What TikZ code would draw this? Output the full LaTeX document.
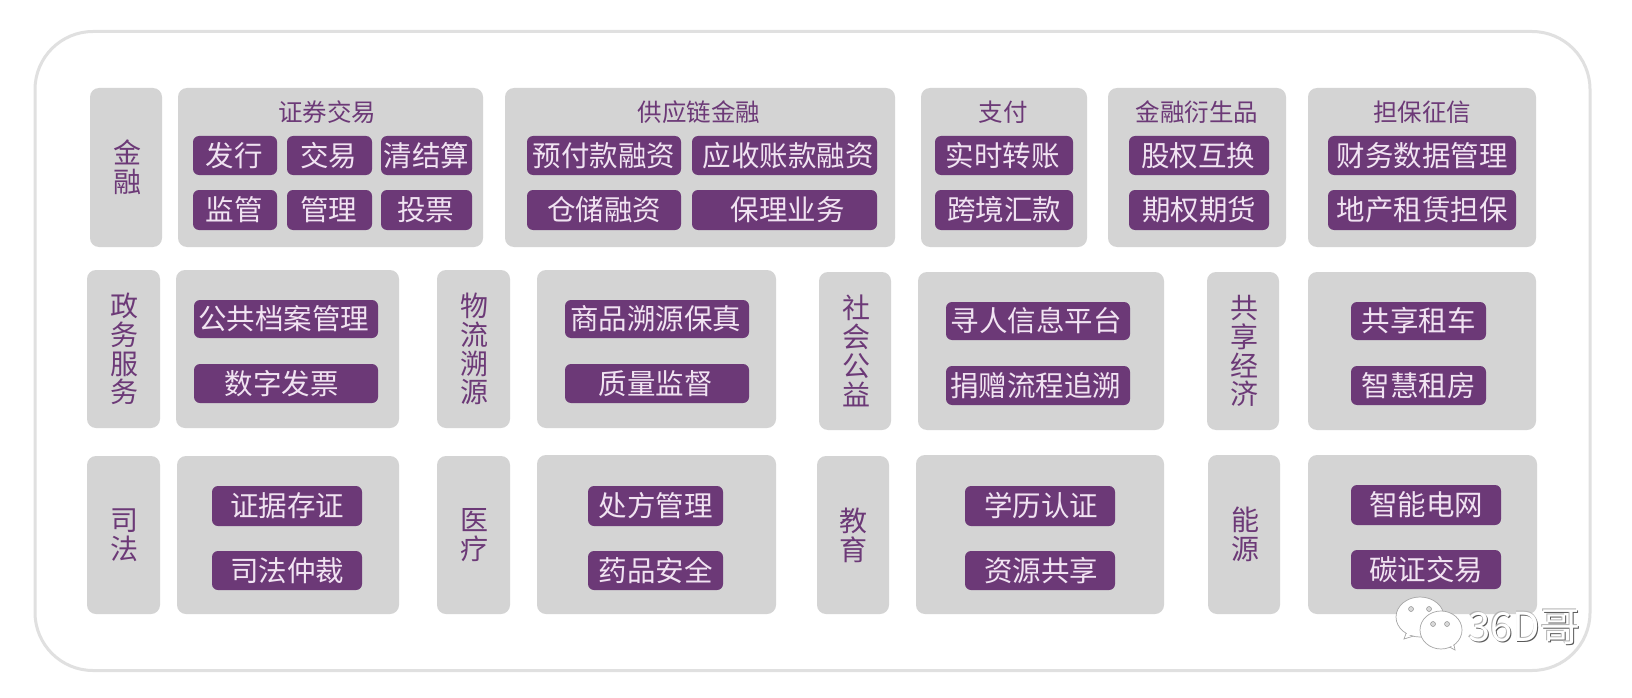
\documentclass[tikz,border=0pt]{standalone}
\usepackage{fontspec}
\setmainfont{Noto Sans CJK SC}
\definecolor{gb}{HTML}{D4D4D4}
\definecolor{pu}{HTML}{6C3977}
\definecolor{lt}{HTML}{F1E3F2}
\definecolor{fr}{HTML}{E0E0E0}
\newcommand{\rbox}[7]{%
 \pgfmathsetmacro{\mycx}{(#3+#5)/2}\pgfmathsetmacro{\mycy}{(#4+#6)/2}%
 \pgfmathsetmacro{\myw}{#5-#3}\pgfmathsetmacro{\myh}{#6-#4}%
 \node[#1,minimum width=\myw pt,minimum height=\myh pt] (#2) at (\mycx,\mycy) {#7};}
\tikzset{
 panel/.style={fill=gb,rounded corners=9pt,inner sep=0pt,text=pu,align=center,font=\fontsize{28}{28.8}\selectfont},
 btn/.style={fill=pu,rounded corners=6pt,inner sep=0pt,text=lt,font=\fontsize{28.5}{32}\selectfont},
 ttl/.style={text=pu,inner sep=0pt,font=\fontsize{24.5}{28}\selectfont},
 bubble/.style={draw=black!35,line width=.7pt,fill=white},
 eye/.style={draw=black!50,fill=black!15,line width=.4pt,circle,inner sep=0pt,minimum size=5pt},
 wm/.style={inner sep=0pt,font=\fontsize{40}{42}\selectfont},
}
\begin{document}
\begin{tikzpicture}[x=1pt,y=-1pt]
\useasboundingbox (0,0) rectangle (1632,698);
\fill[white] (0,0) rectangle (1632,698);
\node[draw=fr,line width=3pt,rounded corners=58pt,minimum width=1555pt,minimum height=639pt,inner sep=0pt] (frame) at (812.5,351) {};
% Row 1
\rbox{panel}{jr}{90}{88}{162}{247}{\hspace*{3pt}金\\\hspace*{3pt}融}
\rbox{panel}{zq}{178}{88}{483}{247}{}
\rbox{panel}{gy}{505}{88}{895}{247}{}
\rbox{panel}{zf}{921}{88}{1087}{247}{}
\rbox{panel}{ys}{1108}{88}{1286}{247}{}
\rbox{panel}{db}{1308}{88}{1536}{247}{}
\node[ttl] (t1) at (327,112) {证券交易};
\node[ttl] (t2) at (699,112) {供应链金融};
\node[ttl] (t3) at (1003,112) {支付};
\node[ttl] (t4) at (1197,112) {金融衍生品};
\node[ttl] (t5) at (1422,112) {担保征信};
\rbox{btn}{a1}{193}{136}{277}{175}{\hspace*{-2pt}发行}
\rbox{btn}{a2}{287}{136}{372}{175}{\hspace*{-2pt}交易}
\rbox{btn}{a3}{381}{136}{472}{175}{清结算}
\rbox{btn}{a4}{193}{190}{277}{230}{\hspace*{-2pt}监管}
\rbox{btn}{a5}{287}{190}{372}{230}{\hspace*{-2pt}管理}
\rbox{btn}{a6}{381}{190}{472}{230}{\hspace*{-2pt}投票}
\rbox{btn}{b1}{527}{136}{681}{175}{预付款融资}
\rbox{btn}{b2}{692}{136}{877}{175}{\hspace*{7pt}应收账款融资}
\rbox{btn}{b3}{527}{190}{681}{230}{仓储融资}
\rbox{btn}{b4}{692}{190}{877}{230}{\hspace*{6pt}保理业务}
\rbox{btn}{c1}{935}{136}{1073}{175}{\hspace*{-3pt}实时转账}
\rbox{btn}{c2}{935}{190}{1073}{230}{跨境汇款}
\rbox{btn}{d1}{1129}{136}{1269}{175}{\hspace*{-2pt}股权互换}
\rbox{btn}{d2}{1129}{190}{1269}{230}{期权期货}
\rbox{btn}{e1}{1328}{136}{1516}{175}{财务数据管理}
\rbox{btn}{e2}{1328}{190}{1516}{230}{地产租赁担保}
% Row 2
\rbox{panel}{zw}{87}{270}{160}{428}{\hspace*{2pt}政\\\hspace*{2pt}务\\\hspace*{2pt}服\\\hspace*{2pt}务}
\rbox{panel}{zwb}{176}{270}{399}{428}{}
\rbox{btn}{f1}{194}{300}{378}{338}{\hspace*{-5pt}公共档案管理}
\rbox{btn}{f2}{194}{364}{378}{403}{\hspace*{-9pt}数字发票}
\rbox{panel}{wl}{437}{270}{510}{428}{\hspace*{1pt}物\\\hspace*{1pt}流\\\hspace*{1pt}溯\\\hspace*{1pt}源}
\rbox{panel}{wlb}{537}{270}{776}{428}{}
\rbox{btn}{g1}{565}{300}{749}{338}{\hspace*{-3pt}商品溯源保真}
\rbox{btn}{g2}{565}{364}{749}{403}{\hspace*{-3pt}质量监督}
\rbox{panel}{sh}{819}{272}{891}{430}{\hspace*{2pt}社\\\hspace*{2pt}会\\\hspace*{2pt}公\\\hspace*{2pt}益}
\rbox{panel}{shb}{918}{272}{1164}{430}{}
\rbox{btn}{h1}{946}{302}{1130}{340}{\hspace*{-4pt}寻人信息平台}
\rbox{btn}{h2}{946}{366}{1130}{405}{\hspace*{-5pt}捐赠流程追溯}
\rbox{panel}{gx}{1207}{272}{1279}{430}{\hspace*{3pt}共\\\hspace*{3pt}享\\\hspace*{3pt}经\\\hspace*{3pt}济}
\rbox{panel}{gxb}{1308}{272}{1536}{430}{}
\rbox{btn}{i1}{1351}{302}{1486}{340}{共享租车}
\rbox{btn}{i2}{1351}{366}{1486}{405}{智慧租房}
% Row 3
\rbox{panel}{sf}{87}{456}{160}{614}{\hspace*{2pt}司\\\hspace*{2pt}法}
\rbox{panel}{sfb}{177}{456}{399}{614}{}
\rbox{btn}{j1}{212}{486}{362}{526}{证据存证}
\rbox{btn}{j2}{212}{551}{362}{590}{司法仲裁}
\rbox{panel}{yl}{437}{456}{510}{614}{\hspace*{1pt}医\\\hspace*{1pt}疗}
\rbox{panel}{ylb}{537}{455}{776}{614}{}
\rbox{btn}{k1}{588}{486}{723}{526}{处方管理}
\rbox{btn}{k2}{588}{551}{723}{590}{药品安全}
\rbox{panel}{jy}{817}{456}{889}{614}{\hspace*{1pt}教\\\hspace*{1pt}育}
\rbox{panel}{jyb}{916}{455}{1164}{614}{}
\rbox{btn}{l1}{965}{486}{1115}{526}{\hspace*{2pt}学历认证}
\rbox{btn}{l2}{965}{551}{1115}{590}{\hspace*{2pt}资源共享}
\rbox{panel}{ny}{1208}{455}{1280}{614}{\hspace*{3pt}能\\\hspace*{3pt}源}
\rbox{panel}{nyb}{1308}{455}{1537}{614}{}
\rbox{btn}{m1}{1351}{485}{1501}{525}{智能电网}
\rbox{btn}{m2}{1351}{550}{1501}{589}{碳证交易}
% Watermark
\draw[bubble] (1404,639) -- (1408,628) -- (1420,634) -- cycle;
\draw[bubble] (1420,617) ellipse[x radius=24,y radius=20];
\fill[white] (1406,636.5) -- (1409,627) -- (1419,632) -- cycle;
\draw[bubble] (1455,650) -- (1444,644) -- (1453,640) -- cycle;
\draw[bubble] (1441,630) ellipse[x radius=21,y radius=19];
\fill[white] (1453.5,647.5) -- (1445,643) -- (1452,639) -- cycle;
\node[eye] (e1) at (1411,609) {};
\node[eye] (e2) at (1429,609) {};
\node[eye] (e3) at (1433,624) {};
\node[eye] (e4) at (1447,624) {};
\node[wm,text=black!65,anchor=west] (wms) at (1469,627.9) {36D哥};
\node[wm,text=black!30,anchor=west] (wml) at (1467.4,626.4) {36D哥};
\node[wm,text=white,anchor=west] (wmt) at (1468,627) {36D哥};
\end{tikzpicture}
\end{document}
